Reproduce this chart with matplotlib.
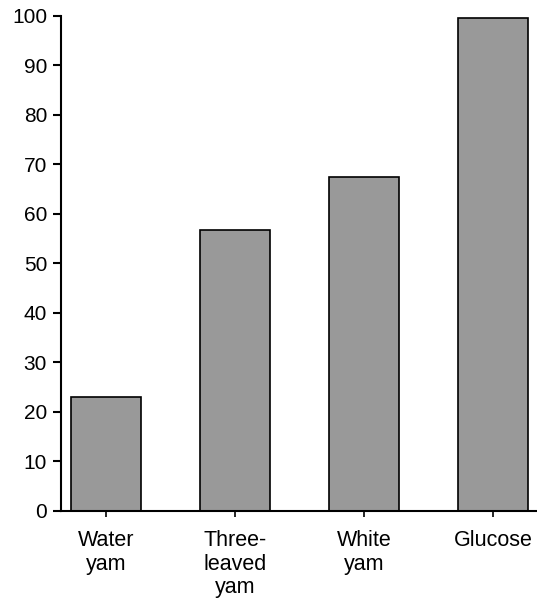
import matplotlib
matplotlib.use("Agg")
import matplotlib.pyplot as plt

categories = ["Water\nyam", "Three-\nleaved\nyam", "White\nyam", "Glucose"]
values = [23.0, 56.8, 67.4, 99.4]
yticks = [0, 10, 20, 30, 40, 50, 60, 70, 80, 90, 100]

plt.rcParams['font.family'] = ['Liberation Sans', 'DejaVu Sans']

fig = plt.figure(figsize=(5.37, 5.99), dpi=100)
ax = fig.add_axes([61/537, 88/599, 1 - 61/537, (511 - 15.5)/599])
x = list(range(len(categories)))
ax.bar(x, values, width=0.54, color='#999999', edgecolor='black', linewidth=1.2, zorder=2)
ax.set_xlim(-0.35, 3.34)
ax.set_ylim(0, 100)
ax.set_yticks(yticks)
ax.set_xticks(x)
ax.set_xticklabels(categories, fontsize=15.5, linespacing=1.15)
ax.tick_params(axis='y', labelsize=15, length=6, width=1.5, pad=4)
ax.tick_params(axis='x', length=4, width=1.2, pad=10)
for s in ['top', 'right']:
    ax.spines[s].set_visible(False)
for s in ['left', 'bottom']:
    ax.spines[s].set_linewidth(1.5)
fig.savefig("out.png", dpi=100)
